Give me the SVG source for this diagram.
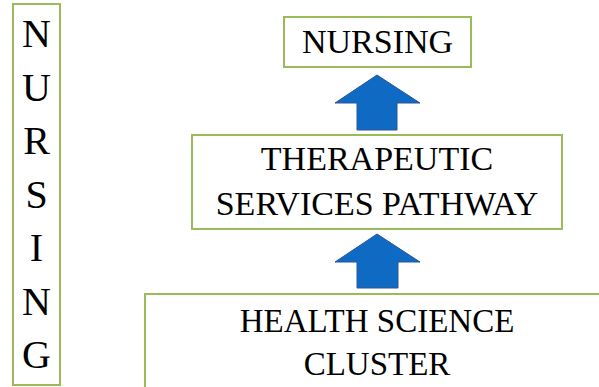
<svg xmlns="http://www.w3.org/2000/svg" width="599" height="387" viewBox="0 0 599 387">
<style>
.box{fill:#fff;stroke:#9BBB59;stroke-width:2}
.t{font-family:"Liberation Serif",serif;fill:#000;text-anchor:middle}
.arrow{fill:#0F6AC4;stroke:#2E5597;stroke-width:1}
</style>
<rect width="599" height="387" fill="#fff"/>
<g id="side">
<rect class="box" x="13" y="4" width="47" height="381"/>
<text class="t" font-size="40" x="36.5" y="47">N</text>
<text class="t" font-size="40" x="36.5" y="100.5">U</text>
<text class="t" font-size="40" x="36.5" y="154">R</text>
<text class="t" font-size="40" x="36.5" y="207.5">S</text>
<text class="t" font-size="40" x="36.5" y="261">I</text>
<text class="t" font-size="40" x="36.5" y="314.5">N</text>
<text class="t" font-size="40" x="36.5" y="368">G</text>
</g>
<g id="nursing">
<rect class="box" x="284" y="17" width="187" height="50"/>
<text class="t" font-size="34" x="377.5" y="53">NURSING</text>
</g>
<g id="pathway">
<rect class="box" x="192" y="135" width="370" height="94"/>
<text class="t" font-size="34" x="377" y="170">THERAPEUTIC</text>
<text class="t" font-size="34" x="377" y="215">SERVICES PATHWAY</text>
</g>
<g id="cluster">
<rect class="box" x="145" y="294" width="460" height="100"/>
<text class="t" font-size="33" x="377" y="332">HEALTH SCIENCE</text>
<text class="t" font-size="33" x="377" y="375">CLUSTER</text>
</g>
<g id="connectors">
<polygon class="arrow" points="377,75 420,103 397,103 397,130 357,130 357,103 335,103"/>
<polygon class="arrow" points="377,234 420,262 398,262 398,288 357,288 357,262 335,262"/>
</g>
</svg>
